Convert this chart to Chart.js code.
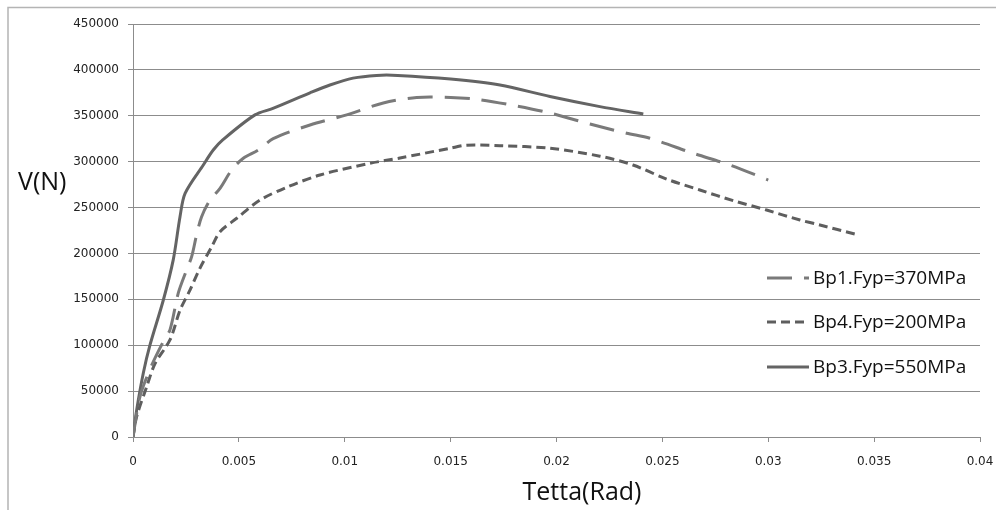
<!DOCTYPE html>
<html>
<head>
<meta charset="utf-8">
<script src="https://cdn.jsdelivr.net/npm/chart.js@4/dist/chart.umd.min.js"></script>
<style>
html,body{margin:0;padding:0;background:#fff;}
#c{display:block;}
</style>
</head>
<body>
<canvas id="c" width="996" height="510"></canvas>
<script>
// ---- data ----
const seriesLabels = ["Bp1.Fyp=370MPa", "Bp4.Fyp=200MPa", "Bp3.Fyp=550MPa"];

const xBp1 = [0, 0.00033, 0.00088, 0.00143, 0.00175, 0.00214, 0.00253, 0.00277, 0.003, 0.00324, 0.00364, 0.00411, 0.00466, 0.00521, 0.00592, 0.00662, 0.00836, 0.01009, 0.01182, 0.0134, 0.0150, 0.01623, 0.0178, 0.01969, 0.02158, 0.02331, 0.02441, 0.02646, 0.02819, 0.0300];
const yBp1 = [0, 44000, 78000, 104000, 117000, 157000, 182000, 196500, 220000, 240000, 258200, 271000, 291000, 303700, 312700, 325000, 340000, 351000, 364000, 370000, 370000, 368000, 362000, 353000, 341000, 331000, 325500, 309100, 296400, 280000];

const xBp4 = [0, 0.00017, 0.00065, 0.00104, 0.00175, 0.00222, 0.00269, 0.00316, 0.00372, 0.00411, 0.0049, 0.006, 0.00726, 0.00883, 0.01119, 0.01261, 0.01497, 0.01576, 0.01733, 0.01969, 0.02205, 0.02361, 0.0252, 0.02677, 0.02835, 0.02992, 0.0315, 0.03244, 0.03409];
const yBp4 = [0, 22000, 55000, 80000, 106000, 138000, 160000, 183800, 207400, 223700, 238300, 258200, 272100, 285500, 298200, 304000, 314600, 318000, 317400, 314600, 306000, 296400, 281000, 269100, 257500, 247300, 236400, 231000, 221200];

const xBp3 = [0, 0.00017, 0.00049, 0.0008, 0.00143, 0.0019, 0.00222, 0.00246, 0.00332, 0.00379, 0.00425, 0.00576, 0.00661, 0.00836, 0.0093, 0.01039, 0.0115, 0.0125, 0.015, 0.01733, 0.01969, 0.02205, 0.0241];
const yBp3 = [0, 29000, 70000, 100000, 149000, 193000, 240000, 265500, 296400, 312700, 324000, 351000, 358000, 375000, 383500, 391000, 394000, 394000, 390000, 383500, 371000, 360000, 352000];

const xTicks = [0, 0.005, 0.01, 0.015, 0.02, 0.025, 0.03, 0.035, 0.04];
const yTicks = [0, 50000, 100000, 150000, 200000, 250000, 300000, 350000, 400000, 450000];
const xTitle = "Tetta(Rad)";
const yTitle = "V(N)";

function pts(xs, ys){ return xs.map((x,i)=>({x:x, y:ys[i]})); }

Chart.defaults.font.family = "'DejaVu Sans', sans-serif";
Chart.defaults.font.size = 12;
Chart.defaults.color = "#222";

const framePlugin = {
  id: 'frame',
  beforeDraw(chart){
    const ctx = chart.ctx;
    ctx.save();
    ctx.strokeStyle = '#b4b4b4';
    ctx.lineWidth = 1.5;
    ctx.beginPath();
    ctx.moveTo(8, 520);
    ctx.lineTo(8, 7.5);
    ctx.lineTo(1000, 7.5);
    ctx.stroke();
    ctx.restore();
  },
  afterDraw(chart){
    const ctx = chart.ctx;
    ctx.save();
    ctx.fillStyle = '#111';
    ctx.font = "25px 'Open Sans', sans-serif";
    ctx.textBaseline = 'middle';
    ctx.textAlign = 'left';
    ctx.fillText(yTitle, 18, 183);
    ctx.textAlign = 'center';
    ctx.fillText(xTitle, 582, 493);
    // legend
    const lx = 767, ly = [278, 322, 367];
    ctx.font = "19px 'Open Sans', sans-serif";
    chart.data.datasets.forEach((ds, i) => {
      ctx.save();
      ctx.strokeStyle = ds.borderColor;
      ctx.lineWidth = ds.borderWidth;
      ctx.setLineDash(ds.borderDash || []);
      ctx.beginPath();
      ctx.moveTo(lx, ly[i]);
      ctx.lineTo(lx + 42, ly[i]);
      ctx.stroke();
      ctx.restore();
      ctx.fillStyle = '#111';
      ctx.textAlign = 'left';
      ctx.textBaseline = 'middle';
      ctx.fillText(ds.label, lx + 46, ly[i] + 1);
    });
    ctx.restore();
  }
};

new Chart(document.getElementById('c'), {
  type: 'line',
  data: {
    datasets: [
      { label: seriesLabels[0], data: pts(xBp1, yBp1), borderColor: '#7a7a7a', borderWidth: 3, borderDash: [25, 12], pointRadius: 0, tension: 0.3, fill: false },
      { label: seriesLabels[1], data: pts(xBp4, yBp4), borderColor: '#5e5e5e', borderWidth: 3, borderDash: [9, 5], pointRadius: 0, tension: 0.3, fill: false },
      { label: seriesLabels[2], data: pts(xBp3, yBp3), borderColor: '#646464', borderWidth: 3, pointRadius: 0, tension: 0.3, fill: false }
    ]
  },
  options: {
    responsive: false,
    animation: false,
    devicePixelRatio: 1,
    layout: { padding: { left: 0, top: 24, right: 16, bottom: 0 } },
    plugins: { legend: { display: false }, tooltip: { enabled: false } },
    scales: {
      x: {
        type: 'linear',
        min: 0, max: 0.04,
        afterBuildTicks(scale){ scale.ticks = xTicks.map(v => ({value: v})); },
        afterFit(scale){ scale.height = 73; scale.paddingRight = 0; scale.paddingLeft = 0; },
        grid: { drawOnChartArea: false, drawTicks: true, tickLength: 5, color: '#8c8c8c' },
        border: { color: '#8c8c8c', width: 1 },
        ticks: { padding: 13, maxRotation: 0, autoSkip: false, callback: v => String(v) }
      },
      y: {
        type: 'linear',
        min: 0, max: 450000,
        afterBuildTicks(scale){ scale.ticks = yTicks.map(v => ({value: v})); },
        afterFit(scale){ scale.width = 133; scale.paddingTop = 0; scale.paddingBottom = 0; },
        grid: { drawOnChartArea: true, drawTicks: true, tickLength: 5, color: '#8c8c8c' },
        border: { color: '#8c8c8c', width: 1 },
        ticks: { padding: 9, autoSkip: false, callback: v => String(v) }
      }
    }
  },
  plugins: [framePlugin]
});
</script>
</body>
</html>
